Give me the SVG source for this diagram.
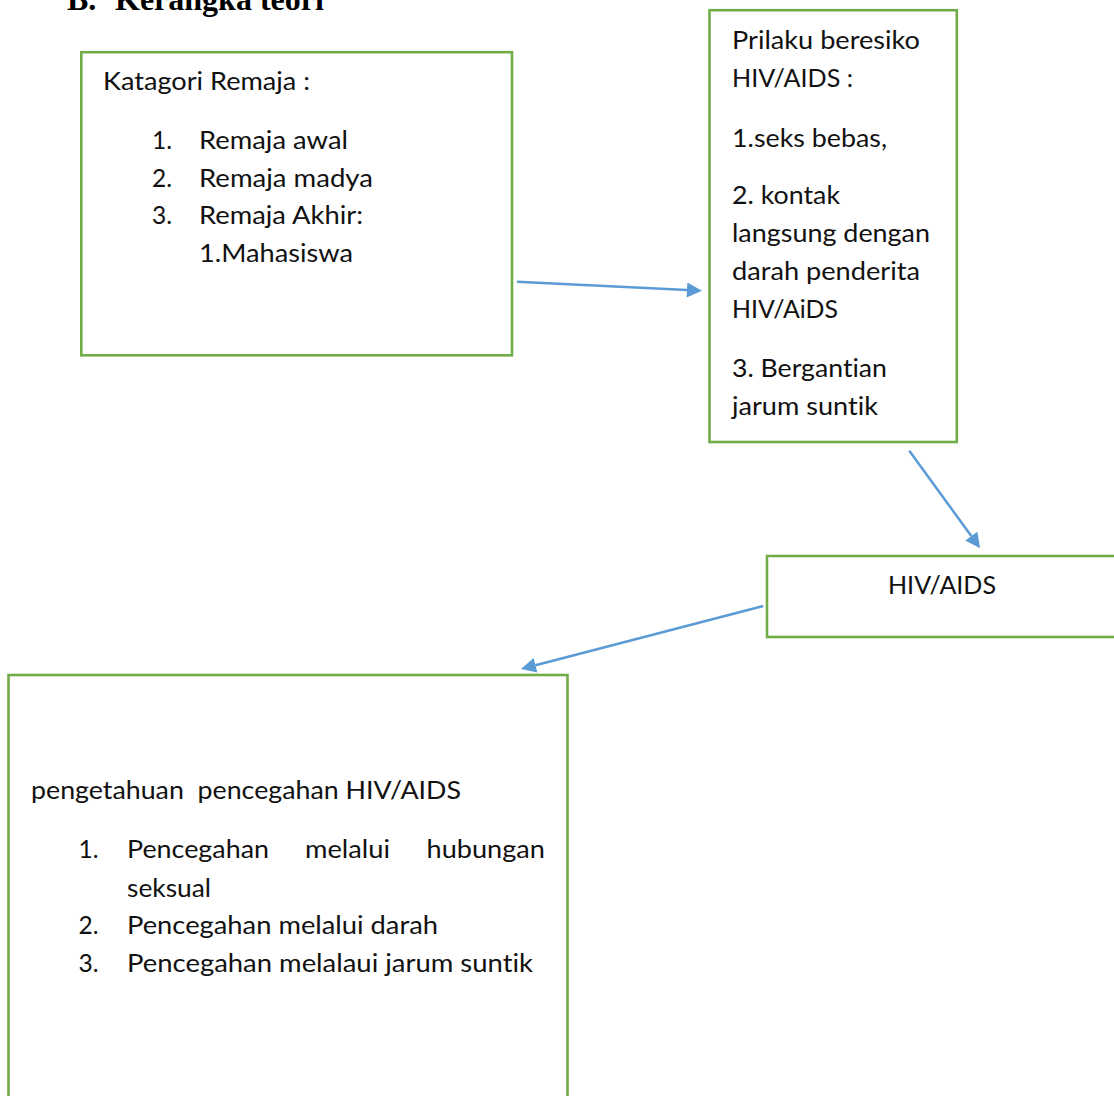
<svg xmlns="http://www.w3.org/2000/svg" width="1114" height="1096" viewBox="0 0 1114 1096">
<style>
.box{fill:#ffffff;stroke:#70AD47;stroke-width:2.6}
.t{font-family:Lato,"Open Sans","Liberation Sans",sans-serif;font-size:24.5px;fill:#111111;font-variant-ligatures:none;white-space:pre}
.title{font-family:"Liberation Serif","Times New Roman",serif;font-size:32px;font-weight:bold;fill:#000000}
.conn{stroke:#5B9BD5;stroke-width:2.5;fill:none}
</style>
<defs>
<marker id="ah" viewBox="0 0 10 10" refX="0" refY="5" markerWidth="16" markerHeight="15" markerUnits="userSpaceOnUse" orient="auto">
<path d="M0,0 L10,5 L0,10 z" fill="#5B9BD5"/>
</marker>
</defs>
<rect width="1114" height="1096" fill="#ffffff"/>
<text class="title" y="10"><tspan x="67">B.</tspan><tspan x="115">Kerangka teori</tspan></text>

<g id="node-katagori">
<rect class="box" x="81.3" y="52.2" width="430.7" height="303.1"/>
<text class="t" x="103" y="90" textLength="207" lengthAdjust="spacingAndGlyphs">Katagori Remaja :</text>
<text class="t" x="152" y="149">1.</text>
<text class="t" x="199" y="149" textLength="149" lengthAdjust="spacingAndGlyphs">Remaja awal</text>
<text class="t" x="152" y="187">2.</text>
<text class="t" x="199" y="187" textLength="174" lengthAdjust="spacingAndGlyphs">Remaja madya</text>
<text class="t" x="152" y="224">3.</text>
<text class="t" x="199" y="224" textLength="164" lengthAdjust="spacingAndGlyphs">Remaja Akhir:</text>
<text class="t" x="199" y="262" textLength="154" lengthAdjust="spacingAndGlyphs">1.Mahasiswa</text>
</g>

<g id="node-prilaku">
<rect class="box" x="709.5" y="10.2" width="247.3" height="431.8"/>
<text class="t" x="732" y="49" textLength="188" lengthAdjust="spacingAndGlyphs">Prilaku beresiko</text>
<text class="t" x="732" y="86.5" textLength="121" lengthAdjust="spacingAndGlyphs">HIV/AIDS :</text>
<text class="t" x="732" y="147" textLength="155" lengthAdjust="spacingAndGlyphs">1.seks bebas,</text>
<text class="t" x="732" y="204" textLength="108" lengthAdjust="spacingAndGlyphs">2. kontak</text>
<text class="t" x="732" y="242" textLength="198" lengthAdjust="spacingAndGlyphs">langsung dengan</text>
<text class="t" x="732" y="280" textLength="188" lengthAdjust="spacingAndGlyphs">darah penderita</text>
<text class="t" x="732" y="318" textLength="106" lengthAdjust="spacingAndGlyphs">HIV/AiDS</text>
<text class="t" x="732" y="377" textLength="155" lengthAdjust="spacingAndGlyphs">3. Bergantian</text>
<text class="t" x="732" y="415" textLength="146" lengthAdjust="spacingAndGlyphs">jarum suntik</text>
</g>

<g id="node-hivaids">
<rect class="box" x="767" y="556" width="360" height="81"/>
<text class="t" x="888" y="594" textLength="108" lengthAdjust="spacingAndGlyphs">HIV/AIDS</text>
</g>

<g id="node-pengetahuan">
<rect class="box" x="8.5" y="675" width="559" height="440"/>
<text class="t" x="31" y="799" textLength="430" lengthAdjust="spacingAndGlyphs" xml:space="preserve">pengetahuan  pencegahan HIV/AIDS</text>
<text class="t" x="78.5" y="858">1.</text>
<text class="t" x="127" y="858" textLength="142" lengthAdjust="spacingAndGlyphs">Pencegahan</text>
<text class="t" x="305" y="858" textLength="85" lengthAdjust="spacingAndGlyphs">melalui</text>
<text class="t" x="426.5" y="858" textLength="118.5" lengthAdjust="spacingAndGlyphs">hubungan</text>
<text class="t" x="127" y="897" textLength="84" lengthAdjust="spacingAndGlyphs">seksual</text>
<text class="t" x="78.5" y="934">2.</text>
<text class="t" x="127" y="934" textLength="311" lengthAdjust="spacingAndGlyphs">Pencegahan melalui darah</text>
<text class="t" x="78.5" y="972">3.</text>
<text class="t" x="127" y="972" textLength="406" lengthAdjust="spacingAndGlyphs">Pencegahan melalaui jarum suntik</text>
</g>

<g id="connectors">
<line class="conn" x1="517" y1="281.7" x2="687" y2="290" marker-end="url(#ah)"/>
<line class="conn" x1="909.3" y1="450.7" x2="971.3" y2="536.1" marker-end="url(#ah)"/>
<line class="conn" x1="763.3" y1="606" x2="535.5" y2="665.3" marker-end="url(#ah)"/>
</g>
</svg>
